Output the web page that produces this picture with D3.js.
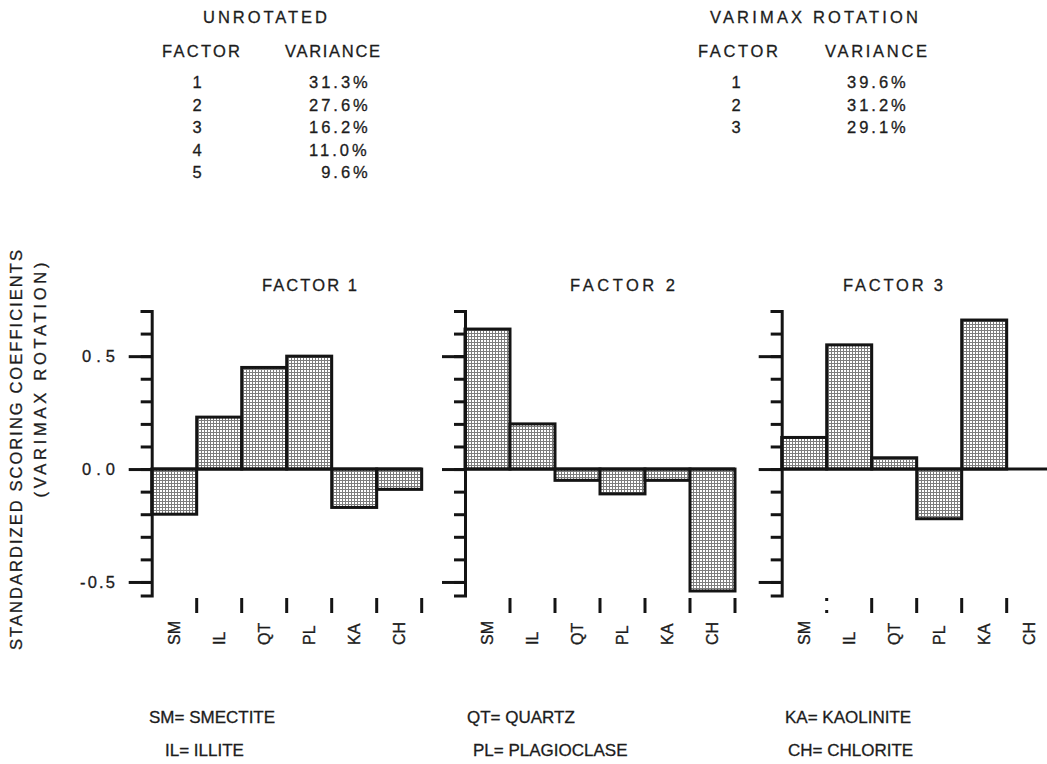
<!DOCTYPE html>
<html>
<head>
<meta charset="utf-8">
<script src="https://cdn.jsdelivr.net/npm/d3@7"></script>
<style>
  body { margin: 0; background: #fff; }
  svg { display: block; }
  text { font-family: "Liberation Sans", Arial, Helvetica, sans-serif; fill: #1c1c1c; }
  .narrow { font-family: "Liberation Sans Narrow", "Arial Narrow", "Liberation Sans", sans-serif; }
</style>
</head>
<body>
<svg id="chart" width="1047" height="764"></svg>
<script>
// Clay minerals and their standardized scoring coefficients (varimax rotation)
const minerals = ["SM", "IL", "QT", "PL", "KA", "CH"];
const factor1 = [-0.20, 0.23, 0.45, 0.50, -0.17, -0.09];
const factor2 = [0.62, 0.20, -0.05, -0.11, -0.05, -0.54];
const factor3 = [0.14, 0.55, 0.05, -0.22, 0.66, 0.00];
const factorTitles = ["FACTOR 1", "FACTOR 2", "FACTOR 3"];

// Explained variance tables
const unrotFactors = ["1", "2", "3", "4", "5"];
const unrotVariance = ["31.3%", "27.6%", "16.2%", "11.0%", "9.6%"];
const varimaxFactors = ["1", "2", "3"];
const varimaxVariance = ["39.6%", "31.2%", "29.1%"];

// Axis ticks
const yMinorTicks = [-0.5, -0.4, -0.3, -0.2, -0.1, 0.0, 0.1, 0.2, 0.3, 0.4, 0.5, 0.6, 0.7];
const yMajorTicks = [-0.5, 0.0, 0.5];
const yTickLabels = ["-0.5", "0.0", "0.5"];

// Abbreviation key
const legendRow1 = ["SM= SMECTITE", "QT= QUARTZ", "KA= KAOLINITE"];
const legendRow2 = ["IL= ILLITE", "PL= PLAGIOCLASE", "CH= CHLORITE"];

const svg = d3.select("#chart");
const INK = "#141414";

// fine screen-tone fill for the bars
const defs = svg.append("defs");
const pat = defs.append("pattern")
  .attr("id", "tone").attr("patternUnits", "userSpaceOnUse")
  .attr("width", 3).attr("height", 3);
pat.append("rect").attr("width", 3).attr("height", 3).attr("fill", "#ffffff");
pat.append("path").attr("d", "M0,0.5H3M0.5,0V3")
  .attr("stroke", "#7c7c7c").attr("stroke-width", 1);

function txt(parent, s, x, y, o = {}) {
  const t = parent.append("text").attr("x", x).attr("y", y).text(s)
    .attr("font-size", o.size || 16.5)
    .attr("text-anchor", o.anchor || "start")
    .attr("stroke", "#1c1c1c").attr("stroke-width", o.stroke == null ? 0.3 : o.stroke);
  if (o.len) t.attr("textLength", o.len).attr("lengthAdjust", "spacing");
  if (o.ls != null) t.attr("letter-spacing", o.ls);
  if (o.cls) t.attr("class", o.cls);
  return t;
}

// ---- variance tables ----
const head = svg.append("g");
txt(head, "UNROTATED", 203, 23, { len: 124 });
txt(head, "FACTOR", 162, 57, { len: 78 });
txt(head, "VARIANCE", 285, 57, { len: 95 });
txt(head, "VARIMAX ROTATION", 710, 23, { len: 208 });
txt(head, "FACTOR", 698, 57, { len: 80 });
txt(head, "VARIANCE", 825, 57, { len: 102 });

const rowY = d3.scaleLinear().domain([0, 4]).range([88, 178]);
const digitStep = 0.556 * 16.5 + 3;
function varianceColumn(factors, values, cx, vx) {
  factors.forEach((f, i) => txt(head, f, cx, rowY(i), { anchor: "middle" }));
  values.forEach((v, i) => {
    const intDigits = v.split(".")[0].length;
    txt(head, v, vx + (2 - intDigits) * digitStep, rowY(i), { ls: 3 });
  });
}
varianceColumn(unrotFactors, unrotVariance, 197, 309);
varianceColumn(varimaxFactors, varimaxVariance, 736, 847);

// ---- y-axis title ----
txt(svg, "STANDARDIZED SCORING COEFFICIENTS", 0, 0, { anchor: "middle", len: 400 })
  .attr("transform", "translate(22,450) rotate(-90)");
txt(svg, "(VARIMAX ROTATION)", 0, 0, { anchor: "middle", len: 235 })
  .attr("transform", "translate(46,380) rotate(-90)");

// ---- factor panels ----
const y = d3.scaleLinear().domain([-0.56, 0.7]).range([595.5, 311]);
const panels = [
  { values: factor1, left: 151.7, title: factorTitles[0], tx: 262, tlen: 95, labels: true, dotted: false },
  { values: factor2, left: 465,   title: factorTitles[1], tx: 570, tlen: 105, labels: false, dotted: false },
  { values: factor3, left: 781.7, title: factorTitles[2], tx: 843, tlen: 100, labels: false, dotted: true }
];
const panelWidth = 270;

panels.forEach(p => {
  const g = svg.append("g");
  const x = d3.scaleBand().domain(minerals).range([p.left, p.left + panelWidth]).padding(0);
  const bw = x.bandwidth();

  txt(g, p.title, p.tx, 291, { len: p.tlen });

  // bars
  g.selectAll("rect.bar").data(p.values).join("rect")
    .attr("class", "bar")
    .attr("x", (d, i) => x(minerals[i]))
    .attr("width", bw)
    .attr("y", d => y(Math.max(0, d)))
    .attr("height", d => Math.abs(y(d) - y(0)))
    .attr("fill", "url(#tone)")
    .attr("stroke", INK).attr("stroke-width", 3);

  // zero line
  g.append("line")
    .attr("x1", p.left).attr("x2", p.left + panelWidth)
    .attr("y1", y(0)).attr("y2", y(0))
    .attr("stroke", INK).attr("stroke-width", 3);

  // y axis: minor ticks with end feet, then long major ticks
  const minor = g.append("g").attr("transform", `translate(${p.left},0)`)
    .call(d3.axisLeft(y).tickValues(yMinorTicks).tickSize(11).tickSizeOuter(11).tickFormat(""));
  const major = g.append("g").attr("transform", `translate(${p.left},0)`)
    .call(d3.axisLeft(y).tickValues(yMajorTicks).tickSize(23).tickSizeOuter(0).tickFormat(""));
  major.select(".domain").remove();
  [minor, major].forEach(a => {
    a.selectAll("path, line").attr("stroke", INK).attr("stroke-width", 3);
    a.select(".domain").attr("stroke-linejoin", "miter").attr("fill", "none");
  });

  if (p.labels) {
    yMajorTicks.forEach((v, i) => {
      txt(g, yTickLabels[i], 115, y(v), { anchor: "end", len: i === 0 ? 35 : 33 })
        .attr("dy", "0.36em");
    });
  }

  // category ticks along the bottom, at the right edge of each bar
  g.selectAll("line.xt").data(minerals).join("line")
    .attr("class", "xt")
    .attr("x1", d => x(d) + bw).attr("x2", d => x(d) + bw)
    .attr("y1", 598).attr("y2", 613)
    .attr("stroke", INK).attr("stroke-width", 3)
    .attr("stroke-dasharray", (d, i) => (p.dotted && i === 0) ? "3,9" : null);

  // rotated category labels
  g.selectAll("text.cat").data(minerals).join("text")
    .attr("class", "cat narrow")
    .attr("transform", d => `translate(${x(d) + bw / 2},645) rotate(-90)`)
    .attr("dy", "0.36em")
    .attr("font-size", 16)
    .attr("stroke", "#1c1c1c").attr("stroke-width", 0.35)
    .text(d => d);
});

// ---- abbreviation key ----
const key = svg.append("g");
const keyX1 = [149, 467, 785];
const keyX2 = [165, 473, 788];
legendRow1.forEach((s, i) => txt(key, s, keyX1[i], 723, { size: 17, cls: "narrow" }));
legendRow2.forEach((s, i) => txt(key, s, keyX2[i], 756, { size: 17, cls: "narrow" }));
</script>
</body>
</html>
